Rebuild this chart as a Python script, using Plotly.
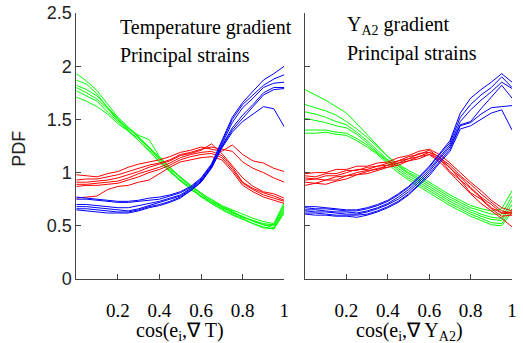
import plotly.graph_objects as go

x = [0, 0.05, 0.1, 0.15, 0.2, 0.25, 0.3, 0.35, 0.4, 0.45, 0.5,
     0.55, 0.6, 0.65, 0.7, 0.75, 0.8, 0.85, 0.9, 0.95, 1.0]

# ---- Left panel: temperature gradient ----
green_T = [
    [1.93, 1.86, 1.77, 1.65, 1.52, 1.43, 1.33, 1.22, 1.13, 1.03, 0.96, 0.88, 0.80, 0.75, 0.69, 0.65, 0.61, 0.57, 0.54, 0.52, 0.72],
    [1.87, 1.83, 1.74, 1.61, 1.50, 1.40, 1.31, 1.21, 1.10, 1.02, 0.93, 0.86, 0.78, 0.73, 0.67, 0.63, 0.58, 0.55, 0.52, 0.51, 0.70],
    [1.82, 1.78, 1.72, 1.61, 1.51, 1.41, 1.34, 1.24, 1.14, 1.04, 0.95, 0.87, 0.80, 0.72, 0.68, 0.62, 0.59, 0.54, 0.51, 0.50, 0.68],
    [1.80, 1.75, 1.69, 1.60, 1.49, 1.42, 1.35, 1.31, 1.15, 1.05, 0.96, 0.88, 0.81, 0.74, 0.68, 0.64, 0.58, 0.55, 0.51, 0.48, 0.66],
    [1.77, 1.72, 1.67, 1.57, 1.48, 1.39, 1.32, 1.23, 1.12, 1.01, 0.93, 0.84, 0.78, 0.71, 0.66, 0.61, 0.57, 0.52, 0.49, 0.47, 0.64],
    [1.71, 1.67, 1.62, 1.55, 1.46, 1.39, 1.30, 1.21, 1.10, 1.01, 0.92, 0.85, 0.77, 0.71, 0.65, 0.60, 0.56, 0.52, 0.48, 0.47, 0.62],
]
red_T = [
    [0.98, 0.97, 0.96, 0.99, 1.01, 1.05, 1.08, 1.10, 1.12, 1.15, 1.19, 1.21, 1.24, 1.22, 1.20, 1.26, 1.17, 1.11, 1.09, 1.04, 1.01],
    [0.93, 0.94, 0.94, 0.96, 0.98, 1.01, 1.04, 1.07, 1.09, 1.12, 1.17, 1.19, 1.22, 1.24, 1.22, 1.20, 1.10, 1.04, 1.00, 0.95, 0.91],
    [0.91, 0.91, 0.92, 0.93, 0.95, 0.98, 1.01, 1.05, 1.08, 1.11, 1.16, 1.18, 1.21, 1.27, 1.18, 1.07, 0.95, 0.87, 0.82, 0.80, 0.76],
    [0.89, 0.89, 0.90, 0.91, 0.92, 0.95, 0.99, 1.02, 1.05, 1.09, 1.14, 1.17, 1.19, 1.20, 1.16, 1.05, 0.91, 0.85, 0.81, 0.78, 0.74],
    [0.87, 0.88, 0.88, 0.89, 0.90, 0.93, 0.96, 1.00, 1.03, 1.07, 1.12, 1.15, 1.17, 1.18, 1.14, 1.03, 0.90, 0.84, 0.79, 0.76, 0.73],
    [0.76, 0.77, 0.78, 0.84, 0.87, 0.88, 0.91, 0.93, 0.99, 1.05, 1.10, 1.12, 1.14, 1.15, 1.12, 1.01, 0.88, 0.82, 0.77, 0.74, 0.71],
]
blue_T = [
    [0.77, 0.76, 0.75, 0.74, 0.73, 0.73, 0.74, 0.76, 0.77, 0.79, 0.82, 0.87, 0.95, 1.08, 1.30, 1.52, 1.66, 1.76, 1.87, 1.93, 2.00],
    [0.75, 0.75, 0.74, 0.73, 0.72, 0.72, 0.73, 0.74, 0.75, 0.78, 0.81, 0.86, 0.94, 1.07, 1.28, 1.50, 1.64, 1.73, 1.82, 1.88, 1.92],
    [0.70, 0.70, 0.69, 0.68, 0.67, 0.67, 0.69, 0.71, 0.73, 0.76, 0.79, 0.85, 0.93, 1.06, 1.27, 1.47, 1.61, 1.70, 1.80, 1.84, 1.85],
    [0.68, 0.68, 0.67, 0.66, 0.65, 0.64, 0.66, 0.69, 0.72, 0.75, 0.78, 0.84, 0.92, 1.05, 1.25, 1.42, 1.54, 1.64, 1.75, 1.80, 1.80],
    [0.66, 0.66, 0.65, 0.64, 0.63, 0.63, 0.65, 0.68, 0.70, 0.73, 0.77, 0.83, 0.91, 1.05, 1.24, 1.40, 1.51, 1.62, 1.73, 1.78, 1.79],
    [0.65, 0.64, 0.63, 0.62, 0.62, 0.62, 0.64, 0.67, 0.69, 0.72, 0.76, 0.83, 0.91, 1.04, 1.23, 1.38, 1.48, 1.55, 1.62, 1.60, 1.43],
]

# ---- Right panel: Y_A2 gradient ----
green_Y = [
    [1.78, 1.73, 1.68, 1.62, 1.56, 1.46, 1.36, 1.25, 1.15, 1.08, 1.02, 0.97, 0.91, 0.85, 0.79, 0.74, 0.69, 0.66, 0.64, 0.66, 0.83],
    [1.64, 1.61, 1.58, 1.54, 1.48, 1.41, 1.33, 1.24, 1.15, 1.07, 1.00, 0.95, 0.89, 0.83, 0.77, 0.72, 0.67, 0.64, 0.61, 0.61, 0.78],
    [1.57, 1.55, 1.52, 1.48, 1.45, 1.38, 1.30, 1.21, 1.12, 1.06, 0.99, 0.93, 0.87, 0.81, 0.75, 0.70, 0.65, 0.61, 0.58, 0.57, 0.74],
    [1.51, 1.49, 1.47, 1.44, 1.42, 1.36, 1.28, 1.19, 1.11, 1.04, 0.97, 0.91, 0.85, 0.79, 0.73, 0.68, 0.63, 0.59, 0.56, 0.55, 0.70],
    [1.40, 1.40, 1.40, 1.38, 1.37, 1.32, 1.26, 1.18, 1.10, 1.02, 0.95, 0.89, 0.83, 0.77, 0.71, 0.66, 0.61, 0.57, 0.53, 0.52, 0.66],
    [1.37, 1.37, 1.38, 1.36, 1.35, 1.30, 1.24, 1.17, 1.08, 1.00, 0.93, 0.87, 0.81, 0.75, 0.69, 0.64, 0.59, 0.55, 0.51, 0.50, 0.63],
]
red_Y = [
    [0.99, 1.00, 1.00, 1.03, 1.03, 1.06, 1.06, 1.09, 1.10, 1.14, 1.16, 1.20, 1.22, 1.17, 1.09, 1.00, 0.91, 0.83, 0.74, 0.67, 0.64],
    [0.97, 0.96, 0.99, 0.99, 1.02, 1.02, 1.05, 1.06, 1.09, 1.11, 1.15, 1.17, 1.21, 1.14, 1.07, 0.97, 0.89, 0.80, 0.72, 0.64, 0.62],
    [0.95, 0.94, 0.97, 0.97, 1.00, 1.03, 1.03, 1.06, 1.07, 1.11, 1.13, 1.18, 1.19, 1.15, 1.04, 0.96, 0.86, 0.77, 0.70, 0.62, 0.63],
    [0.93, 0.94, 0.93, 0.96, 0.97, 1.00, 1.02, 1.03, 1.07, 1.09, 1.13, 1.15, 1.19, 1.12, 1.05, 0.93, 0.85, 0.76, 0.67, 0.62, 0.61],
    [0.91, 0.90, 0.93, 0.93, 0.97, 0.98, 1.01, 1.04, 1.05, 1.09, 1.11, 1.15, 1.17, 1.13, 1.01, 0.93, 0.81, 0.75, 0.66, 0.59, 0.60],
    [0.88, 0.90, 0.89, 0.92, 0.94, 0.98, 0.99, 1.02, 1.05, 1.07, 1.11, 1.13, 1.17, 1.10, 1.00, 0.89, 0.80, 0.71, 0.64, 0.57, 0.49],
]
blue_Y = [
    [0.68, 0.68, 0.67, 0.66, 0.65, 0.65, 0.67, 0.70, 0.74, 0.80, 0.87, 0.96, 1.06, 1.18, 1.30, 1.56, 1.70, 1.78, 1.85, 1.93, 1.85],
    [0.67, 0.66, 0.66, 0.65, 0.64, 0.64, 0.66, 0.69, 0.73, 0.79, 0.86, 0.95, 1.05, 1.17, 1.28, 1.52, 1.64, 1.73, 1.80, 1.90, 1.80],
    [0.65, 0.65, 0.64, 0.63, 0.63, 0.62, 0.64, 0.67, 0.71, 0.77, 0.84, 0.93, 1.03, 1.15, 1.26, 1.48, 1.59, 1.68, 1.76, 1.85, 1.79],
    [0.64, 0.63, 0.63, 0.62, 0.61, 0.61, 0.63, 0.66, 0.70, 0.75, 0.82, 0.91, 1.01, 1.13, 1.24, 1.45, 1.48, 1.60, 1.71, 1.82, 1.70],
    [0.62, 0.62, 0.61, 0.60, 0.60, 0.60, 0.61, 0.64, 0.68, 0.73, 0.80, 0.89, 0.99, 1.11, 1.22, 1.44, 1.47, 1.55, 1.61, 1.62, 1.63],
    [0.61, 0.60, 0.60, 0.59, 0.59, 0.58, 0.60, 0.63, 0.67, 0.72, 0.79, 0.88, 0.97, 1.09, 1.20, 1.41, 1.44, 1.50, 1.56, 1.59, 1.40],
]

y_ticks = [0, 0.5, 1, 1.5, 2, 2.5]
y_tick_text = ["0", "0.5", "1", "1.5", "2", "2.5"]
x_ticks = [0.2, 0.4, 0.6, 0.8, 1]
x_tick_text = ["0.2", "0.4", "0.6", "0.8", "1"]

fig = go.Figure()

def add_group(curves, color, xa, ya):
    for c in curves:
        fig.add_trace(go.Scatter(x=x, y=c, mode="lines", xaxis=xa, yaxis=ya,
                                 line=dict(color=color, width=1), showlegend=False,
                                 hoverinfo="skip"))

add_group(green_T, "#00ff00", "x", "y")
add_group(red_T, "#ff0000", "x", "y")
add_group(blue_T, "#0000ff", "x", "y")
add_group(green_Y, "#00ff00", "x2", "y2")
add_group(red_Y, "#ff0000", "x2", "y2")
add_group(blue_Y, "#0000ff", "x2", "y2")

W, H = 523, 343
serif = dict(family="Liberation Serif", size=20, color="#000")
tickserif = dict(family="Liberation Serif", size=19, color="#000")
sans = dict(family="Liberation Sans", size=18, color="#222")

axis_common = dict(showline=True, linecolor="#444", linewidth=1, ticks="inside",
                   ticklen=5, tickcolor="#444", showgrid=False, zeroline=False,
                   mirror=False)

fig.update_layout(
    width=W, height=H,
    margin=dict(l=0, r=0, t=13, b=64),
    paper_bgcolor="white", plot_bgcolor="white",
    xaxis=dict(domain=[77 / W, 287 / W], range=[0, 1], tickvals=x_ticks,
               ticktext=x_tick_text, tickfont=tickserif, ticklabelstandoff=14,
               anchor="y", **axis_common),
    yaxis=dict(domain=[0, 1], range=[0, 2.5], tickvals=y_ticks,
               ticktext=y_tick_text, tickfont=sans, anchor="x", **axis_common),
    xaxis2=dict(domain=[308 / W, 517 / W], range=[0, 1], tickvals=x_ticks,
                ticktext=x_tick_text, tickfont=tickserif, ticklabelstandoff=14,
                anchor="y2", **axis_common),
    yaxis2=dict(domain=[0, 1], range=[0, 2.5], tickvals=y_ticks,
                showticklabels=False, anchor="x2", **axis_common),
)

ph = 343 - 13 - 64
def py(p):
    return (279 - p) / ph

annos = [
    dict(text="Temperature gradient", x=119 / W, y=py(27)),
    dict(text="Principal strains", x=119 / W, y=py(55)),
    dict(text="Y<sub>A2</sub> gradient", x=348 / W, y=py(25)),
    dict(text="Principal strains", x=348 / W, y=py(53)),
]
for a in annos:
    fig.add_annotation(xref="paper", yref="paper", x=a["x"], y=a["y"], text=a["text"],
                       showarrow=False, xanchor="left", yanchor="middle", font=serif)

fig.add_annotation(xref="paper", yref="paper", x=182 / W, y=py(331),
                   text="cos(e<sub>i</sub>,∇ T)", showarrow=False,
                   xanchor="center", yanchor="middle", font=serif)
fig.add_annotation(xref="paper", yref="paper", x=413 / W, y=py(331),
                   text="cos(e<sub>i</sub>,∇ Y<sub>A2</sub>)", showarrow=False,
                   xanchor="center", yanchor="middle", font=serif)
fig.add_annotation(xref="paper", yref="paper", x=19 / W, y=py(149),
                   text="PDF", showarrow=False, textangle=-90,
                   xanchor="center", yanchor="middle", font=sans)

fig.write_html("out.html")
